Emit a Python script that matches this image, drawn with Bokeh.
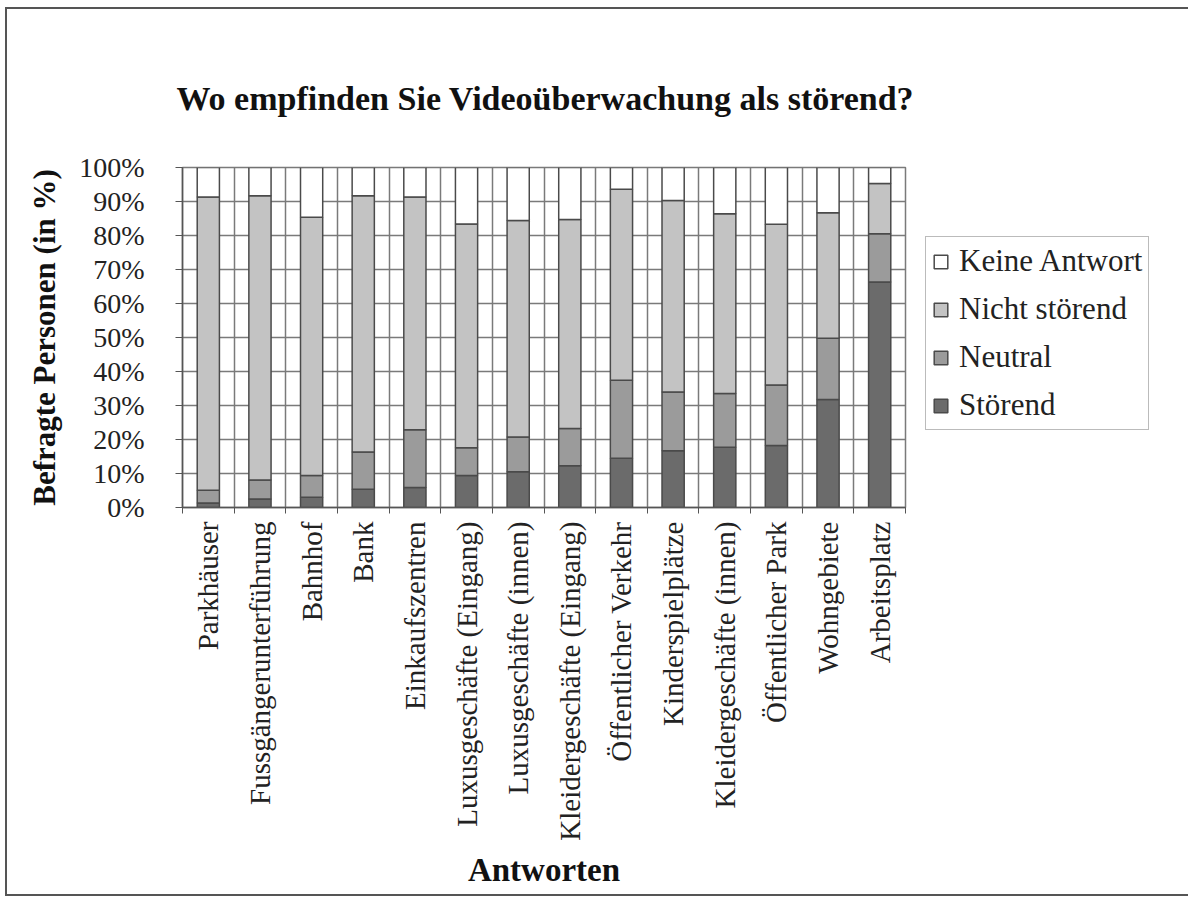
from bokeh.plotting import figure
from bokeh.models import FixedTicker, Legend, LegendItem, InlineStyleSheet, ColumnDataSource, Title
from bokeh.embed import file_html
from bokeh.resources import INLINE
import math

categories = ["Parkhäuser", "Fussgängerunterführung", "Bahnhof", "Bank", "Einkaufszentren",
              "Luxusgeschäfte (Eingang)", "Luxusgeschäfte (innen)", "Kleidergeschäfte (Eingang)",
              "Öffentlicher Verkehr", "Kinderspielplätze", "Kleidergeschäfte (innen)",
              "Öffentlicher Park", "Wohngebiete", "Arbeitsplatz"]
stoerend =       [1.3, 2.5, 3.0, 5.4, 5.9, 9.4, 10.5, 12.3, 14.5, 16.7, 17.7, 18.2, 31.8, 66.3]
neutral =        [3.8, 5.6, 6.4, 10.9, 17.0, 8.2, 10.2, 10.9, 22.9, 17.3, 15.8, 17.8, 18.0, 14.2]
nicht_stoerend = [86.2, 83.6, 76.0, 75.4, 68.4, 65.8, 63.7, 61.5, 56.2, 56.3, 52.9, 47.3, 36.9, 14.8]
keine_antwort =  [8.7, 8.3, 14.6, 8.3, 8.7, 16.6, 15.6, 15.3, 6.4, 9.7, 13.6, 16.7, 13.3, 4.7]
series_names = ["Störend", "Neutral", "Nicht störend", "Keine Antwort"]
y_ticks = [0, 10, 20, 30, 40, 50, 60, 70, 80, 90, 100]

colors = ["#6b6b6b", "#9b9b9b", "#c3c3c3", "#ffffff"]
FONT = "Liberation Serif"

n = len(categories)
xs = [i + 0.5 for i in range(n)]
src = ColumnDataSource(dict(x=xs, s=stoerend, ne=neutral, ni=nicht_stoerend, k=keine_antwort))

p = figure(frame_width=723, frame_height=340, output_backend="svg", toolbar_location=None,
           x_range=(0, n), y_range=(0, 100),
           min_border_left=182, min_border_right=283, min_border_top=167, min_border_bottom=390)
p.background_fill_color = "white"
p.border_fill_color = "white"
p.outline_line_color = "#7a7a7a"
p.outline_line_width = 1.5

renderers = p.vbar_stack(["s", "ne", "ni", "k"], x="x", width=0.43, source=src,
                         fill_color=colors, line_color="#4a4a4a", line_width=1.5)

p.xaxis.ticker = FixedTicker(ticks=xs, minor_ticks=list(range(n + 1)))
p.xaxis.major_label_overrides = {x: c for x, c in zip(xs, categories)}
p.xaxis.major_label_orientation = math.pi / 2
p.xaxis.major_tick_line_color = None
p.xaxis.minor_tick_out = 6
p.xaxis.minor_tick_in = 0
p.xaxis.minor_tick_line_color = "#555555"
p.xaxis.axis_line_color = "#555555"
p.xaxis.axis_line_width = 1.5
p.xaxis.major_label_text_font = FONT
p.xaxis.major_label_text_font_size = "29px"
p.xaxis.major_label_text_color = "#222222"
p.xaxis.major_label_standoff = 8
p.xaxis.axis_label = "Antworten"
p.xaxis.axis_label_text_font = FONT
p.xaxis.axis_label_text_font_style = "bold"
p.xaxis.axis_label_text_font_size = "33px"
p.xaxis.axis_label_text_color = "#111111"
p.xaxis.axis_label_standoff = 8

p.yaxis.ticker = FixedTicker(ticks=y_ticks)
p.yaxis.major_label_overrides = {t: f"{t}%" for t in y_ticks}
p.yaxis.major_tick_out = 7
p.yaxis.major_tick_in = 0
p.yaxis.minor_tick_line_color = None
p.yaxis.major_tick_line_color = "#555555"
p.yaxis.axis_line_color = "#555555"
p.yaxis.axis_line_width = 1.5
p.yaxis.major_label_text_font = FONT
p.yaxis.major_label_text_font_size = "28px"
p.yaxis.major_label_text_color = "#222222"
p.yaxis.major_label_standoff = 31
p.yaxis.axis_label = "Befragte Personen (in %)"
p.yaxis.axis_label_text_font = FONT
p.yaxis.axis_label_text_font_style = "bold"
p.yaxis.axis_label_text_font_size = "31px"
p.yaxis.axis_label_text_color = "#111111"
p.yaxis.axis_label_standoff = 14

p.xgrid.ticker = FixedTicker(ticks=list(range(n + 1)))
p.xgrid.grid_line_color = "#7a7a7a"
p.xgrid.grid_line_width = 1.5
p.ygrid.ticker = FixedTicker(ticks=y_ticks)
p.ygrid.grid_line_color = "#7a7a7a"
p.ygrid.grid_line_width = 1.5

t = Title(text="Wo empfinden Sie Videoüberwachung als störend?", text_font=FONT,
          text_font_style="bold", text_font_size="34px", text_color="#111111",
          align="left", offset=-6, standoff=101)
p.add_layout(t, "above")

items = [LegendItem(label=name, renderers=[r]) for name, r in zip(series_names, renderers)][::-1]
legend = Legend(items=items, location=(20, 77), label_text_font=FONT,
                label_text_font_size="31px", label_text_color="#222222",
                glyph_width=17, glyph_height=17, label_height=34, spacing=12,
                padding=6, margin=0, border_line_color="#777777", border_line_width=1.5,
                label_standoff=10)
p.add_layout(legend, "right")

p.stylesheets = [InlineStyleSheet(css=""":host::after {
  content: ""; position: absolute; left: 5px; top: 7px; right: 1px; bottom: 1px;
  border: 2px solid #555; pointer-events: none; z-index: 10; }""")]

open("out.html", "w").write(file_html(p, INLINE))
